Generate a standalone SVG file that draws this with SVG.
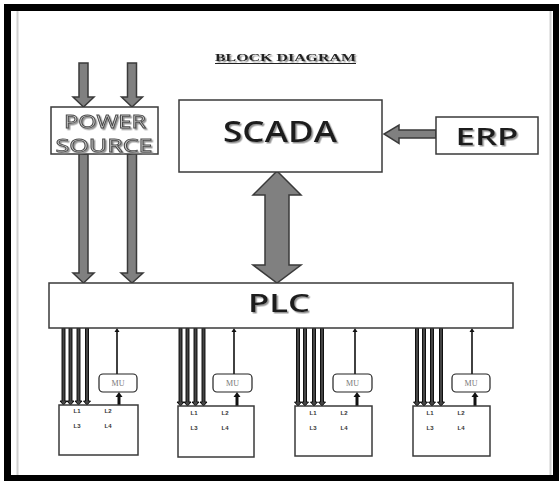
<svg xmlns="http://www.w3.org/2000/svg" width="559" height="481" viewBox="0 0 559 481">
<defs>
<style>
.box{fill:#fff;stroke:#3a3a3a;stroke-width:1.5}
.big{fill:#808080;stroke:#3a3a3a;stroke-width:1.5;stroke-linejoin:miter}
.lead{fill:#444;stroke:#000;stroke-width:0.9}
.t{font-family:"Open Sans","Noto Sans",sans-serif;font-weight:600;fill:#1e1e1e;text-anchor:middle;filter:url(#sh)}
.ps{font-family:"Open Sans","Noto Sans",sans-serif;fill:#d4d4d4;stroke:#4a4a4a;stroke-width:0.8;text-anchor:middle;font-size:18px;filter:url(#sh)}
.mu{fill:#fff;stroke:#222;stroke-width:1.2}
.mut{font-family:"Liberation Serif",serif;font-size:8px;fill:#777;text-anchor:middle}
.lt{font-family:"Liberation Sans",sans-serif;font-size:6px;font-weight:bold;fill:#333;text-anchor:middle}
.thin{stroke:#111;stroke-width:1.6;fill:none}
.thick{stroke:#111;stroke-width:3;fill:none}
.ah{fill:#111}
</style>
<filter id="sh" x="-10%" y="-20%" width="130%" height="150%">
<feDropShadow dx="1.5" dy="1.5" stdDeviation="0.6" flood-color="#888" flood-opacity="0.9"/>
</filter>
</defs>
<rect width="559" height="481" fill="#fff"/>
<g id="frame">
<rect x="7.5" y="7.5" width="549" height="471" fill="none" stroke="#000" stroke-width="7"/>
<line x1="17.5" y1="11" x2="17.5" y2="475" stroke="#d0d0d0" stroke-width="2"/>
<line x1="550.5" y1="11" x2="550.5" y2="475" stroke="#d0d0d0" stroke-width="2"/>
</g>
<g id="title">
<text x="285.5" y="61" font-family="Liberation Serif,serif" font-weight="bold" font-size="10.5" fill="#222" text-anchor="middle" textLength="141" lengthAdjust="spacingAndGlyphs" filter="url(#sh)">BLOCK DIAGRAM</text>
<line x1="215" y1="63.5" x2="356" y2="63.5" stroke="#222" stroke-width="1"/>
</g>
<g id="connectors">
<polygon class="big" points="79,63 88,63 88,97 94,97 83.5,107 73,97 79,97"/>
<polygon class="big" points="127.5,63 136.5,63 136.5,97 142.5,97 132,107 121.5,97 127.5,97"/>
<polygon class="big" points="79,154 88,154 88,273 94,273 83.5,283 73,273 79,273"/>
<polygon class="big" points="127.5,154 136.5,154 136.5,273 143,273 132,283 121,273 127.5,273"/>
<polygon class="big" points="436,130 399,130 399,125 384,134 399,143.5 399,138 436,138"/>
<polygon class="big" points="277,171 301,195 289,195 289,265 301,265 277,283 253,265 265,265 265,195 253,195"/>
<g id="leads1">
<polygon class="lead" points="62,328 65,328 65,401 67,401 63.5,405 60,401 62,401"/>
<polygon class="lead" points="69,328 72,328 72,401 74,401 70.5,405 67,401 69,401"/>
<polygon class="lead" points="77,328 80,328 80,401 82,401 78.5,405 75,401 77,401"/>
<polygon class="lead" points="85.5,328 88.5,328 88.5,401 90.5,401 87,405 83.5,401 85.5,401"/>
<line class="thin" x1="117" y1="331" x2="117" y2="374"/>
<polygon class="ah" points="117,328 119.5,332 114.5,332"/>
<line class="thick" x1="119" y1="396" x2="119" y2="405"/>
<polygon class="ah" points="119,392 122.5,397 115.5,397"/>
</g>
<g id="leads2">
<polygon class="lead" points="179,328 182,328 182,402 184,402 180.5,406 177,402 179,402"/>
<polygon class="lead" points="186,328 189,328 189,402 191,402 187.5,406 184,402 186,402"/>
<polygon class="lead" points="194,328 197,328 197,402 199,402 195.5,406 192,402 194,402"/>
<polygon class="lead" points="202,328 205,328 205,402 207,402 203.5,406 200,402 202,402"/>
<line class="thin" x1="234" y1="331" x2="234" y2="374"/>
<polygon class="ah" points="234,328 236.5,332 231.5,332"/>
<line class="thick" x1="237" y1="396" x2="237" y2="406"/>
<polygon class="ah" points="237,392 240.5,397 233.5,397"/>
</g>
<g id="leads3">
<polygon class="lead" points="296.5,328 299.5,328 299.5,402 301.5,402 298,406 294.5,402 296.5,402"/>
<polygon class="lead" points="303.5,328 306.5,328 306.5,402 308.5,402 305,406 301.5,402 303.5,402"/>
<polygon class="lead" points="312.5,328 315.5,328 315.5,402 317.5,402 314,406 310.5,402 312.5,402"/>
<polygon class="lead" points="320.5,328 323.5,328 323.5,402 325.5,402 322,406 318.5,402 320.5,402"/>
<line class="thin" x1="355" y1="331" x2="355" y2="374"/>
<polygon class="ah" points="355,328 357.5,332 352.5,332"/>
<line class="thick" x1="357" y1="396" x2="357" y2="406"/>
<polygon class="ah" points="357,392 360.5,397 353.5,397"/>
</g>
<g id="leads4">
<polygon class="lead" points="415.5,328 418.5,328 418.5,402 420.5,402 417,406 413.5,402 415.5,402"/>
<polygon class="lead" points="422.5,328 425.5,328 425.5,402 427.5,402 424,406 420.5,402 422.5,402"/>
<polygon class="lead" points="430.5,328 433.5,328 433.5,402 435.5,402 432,406 428.5,402 430.5,402"/>
<polygon class="lead" points="439.5,328 442.5,328 442.5,402 444.5,402 441,406 437.5,402 439.5,402"/>
<line class="thin" x1="472" y1="331" x2="472" y2="374"/>
<polygon class="ah" points="472,328 474.5,332 469.5,332"/>
<line class="thick" x1="475" y1="396" x2="475" y2="406"/>
<polygon class="ah" points="475,392 478.5,397 471.5,397"/>
</g>
</g>
<g id="power">
<rect class="box" x="51" y="107" width="107" height="47"/>
<text class="ps" x="105" y="128" textLength="82" lengthAdjust="spacingAndGlyphs">POWER</text>
<text class="ps" x="104" y="152" textLength="97" lengthAdjust="spacingAndGlyphs">SOURCE</text>
</g>
<g id="scada">
<rect class="box" x="179" y="100" width="203" height="72"/>
<text class="t" x="280" y="142" font-size="28" textLength="114" lengthAdjust="spacingAndGlyphs">SCADA</text>
</g>
<g id="erp">
<rect class="box" x="436" y="117" width="102" height="37"/>
<text class="t" x="487" y="145" font-size="24" textLength="63" lengthAdjust="spacingAndGlyphs">ERP</text>
</g>
<g id="plc">
<rect class="box" x="49" y="283" width="464" height="45"/>
<text class="t" x="279" y="312" font-size="26" textLength="62" lengthAdjust="spacingAndGlyphs">PLC</text>
</g>
<g id="unit1">
<rect class="mu" x="99" y="374" width="38" height="18" rx="4"/>
<text class="mut" x="118" y="386">MU</text>
<rect class="box" x="59" y="405" width="79" height="50"/>
<text class="lt" x="77" y="413">L1</text><text class="lt" x="108" y="413">L2</text>
<text class="lt" x="77" y="428">L3</text><text class="lt" x="108" y="428">L4</text>
</g>
<g id="unit2">
<rect class="mu" x="213" y="374" width="39" height="18" rx="4"/>
<text class="mut" x="232.5" y="386">MU</text>
<rect class="box" x="178" y="406" width="76" height="51"/>
<text class="lt" x="194" y="415">L1</text><text class="lt" x="225" y="415">L2</text>
<text class="lt" x="194" y="430">L3</text><text class="lt" x="225" y="430">L4</text>
</g>
<g id="unit3">
<rect class="mu" x="333" y="374" width="39" height="18" rx="4"/>
<text class="mut" x="352.5" y="386">MU</text>
<rect class="box" x="295" y="406" width="77" height="50"/>
<text class="lt" x="313" y="415">L1</text><text class="lt" x="344" y="415">L2</text>
<text class="lt" x="313" y="430">L3</text><text class="lt" x="344" y="430">L4</text>
</g>
<g id="unit4">
<rect class="mu" x="452" y="374" width="38" height="18" rx="4"/>
<text class="mut" x="471" y="386">MU</text>
<rect class="box" x="413" y="406" width="77" height="50"/>
<text class="lt" x="430" y="415">L1</text><text class="lt" x="461" y="415">L2</text>
<text class="lt" x="430" y="430">L3</text><text class="lt" x="461" y="430">L4</text>
</g>
</svg>
